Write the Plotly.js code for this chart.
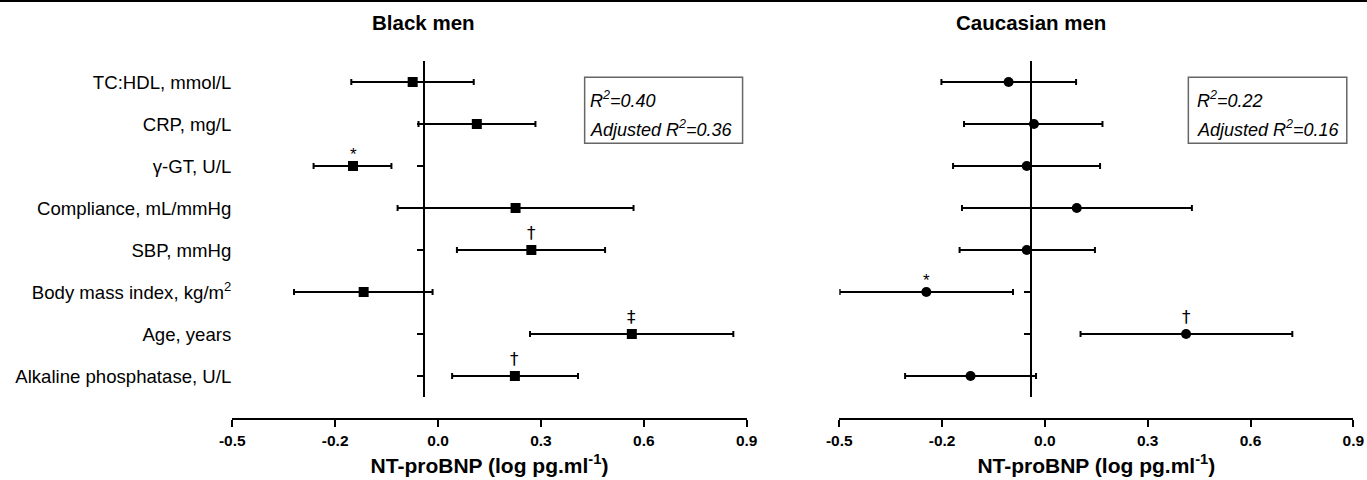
<!DOCTYPE html>
<html>
<head>
<meta charset="utf-8">
<script src="https://cdn.plot.ly/plotly-3.0.1.min.js"></script>
<style>html,body{margin:0;padding:0;background:#fff;}#chart{width:1367px;height:480px;}</style>
</head>
<body>
<div id="chart"></div>
<script>
// ---- data ----
const categories = ['TC:HDL, mmol/L', 'CRP, mg/L', '\u03B3-GT, U/L', 'Compliance, mL/mmHg',
  'SBP, mmHg', 'Body mass index, kg/m<sup>2</sup>', 'Age, years', 'Alkaline phosphatase, U/L'];
const blackEst   = [-0.074, 0.113, -0.248, 0.226, 0.272, -0.217, 0.565, 0.224];
const blackLower = [-0.253, -0.057, -0.363, -0.118, 0.055, -0.420, 0.268, 0.041];
const blackUpper = [0.104, 0.284, -0.136, 0.570, 0.487, -0.016, 0.861, 0.408];
const blackSig   = ['', '', '*', '', '\u2020', '', '\u2021', '\u2020'];
const whiteEst   = [-0.106, -0.032, -0.053, 0.093, -0.053, -0.346, 0.412, -0.217];
const whiteLower = [-0.302, -0.236, -0.268, -0.242, -0.249, -0.599, 0.104, -0.408];
const whiteUpper = [0.091, 0.168, 0.161, 0.429, 0.146, -0.093, 0.722, -0.026];
const whiteSig   = ['', '', '', '', '', '*', '\u2020', ''];
const tickVals   = [-0.6, -0.3, 0.0, 0.3, 0.6, 0.9];
const tickText   = ['-0.5', '-0.2', '0.0', '0.3', '0.6', '0.9'];
const refLine    = -0.042;
const panelTitles = ['Black men', 'Caucasian men'];
const r2Black = ['R<sup>2</sup>=0.40', 'Adjusted R<sup>2</sup>=0.36'];
const r2White = ['R<sup>2</sup>=0.22', 'Adjusted R<sup>2</sup>=0.16'];

// ---- layout helpers ----
const W = 1367, H = 480;
const FONT = 'Arial, "Liberation Sans", Helvetica, sans-serif';
const idx = categories.map((_, i) => i);
const xRange = [-0.6, 0.9];
const domL = [232.3 / W, 746.7 / W];
const domR = [839.3 / W, 1353.3 / W];
const mT = 61, mB = 61;
const plotH = H - mT - mB;
const yBottom = 22 / plotH;
const yRange = [7.5, -0.5];
function posOf(dom, v) { return dom[0] + (v - xRange[0]) / (xRange[1] - xRange[0]) * (dom[1] - dom[0]); }
function pyOf(px) { return (H - mB - px) / plotH; }

function makeTrace(est, lo, hi, xa, ya, sym) {
  return {
    type: 'scatter', mode: 'markers', x: est, y: idx, xaxis: xa, yaxis: ya,
    marker: { symbol: sym, size: 10, color: '#000' },
    error_x: { type: 'data', symmetric: false,
      array: hi.map((h, i) => h - est[i]), arrayminus: lo.map((l, i) => est[i] - l),
      color: '#000', thickness: 2, width: 3 },
    showlegend: false, hoverinfo: 'skip', cliponaxis: false
  };
}
const data = [
  { type: 'scatter', mode: 'markers', x: [null], y: [null], xaxis: 'x', yaxis: 'y', showlegend: false },
  makeTrace(blackEst, blackLower, blackUpper, 'x', 'y2', 'square'),
  makeTrace(whiteEst, whiteLower, whiteUpper, 'x2', 'y3', 'circle')
];

function xAxis(dom) {
  return {
    domain: dom, range: xRange, anchor: 'free', position: 0,
    showline: true, linecolor: '#000', linewidth: 2, showgrid: false, zeroline: false,
    ticks: 'outside', ticklen: 7, tickwidth: 2, tickcolor: '#000',
    tickvals: tickVals, ticktext: tickText,
    tickfont: { family: FONT, size: 15.5, color: '#000', weight: 'bold' },
    title: { text: 'NT-proBNP (log pg.ml<sup>-1</sup>)', standoff: 10,
      font: { family: FONT, size: 21, color: '#000', weight: 'bold' } }
  };
}
function freeY(pos, extra) {
  return Object.assign({
    range: yRange, anchor: 'free', position: pos,
    showline: true, linecolor: '#000', linewidth: 2, showgrid: false, zeroline: false,
    ticks: 'outside', ticklen: 6, tickwidth: 2, tickcolor: '#000',
    tickvals: idx, showticklabels: false
  }, extra);
}

const annotations = [];
panelTitles.forEach((t, k) => {
  annotations.push({ xref: k ? 'x2' : 'x', yref: 'paper', x: refLine, y: pyOf(23),
    xanchor: 'center', yanchor: 'middle', showarrow: false, text: t,
    font: { family: FONT, size: 20.5, color: '#000', weight: 'bold' } });
});
function addSig(sig, est, xa, ya) {
  sig.forEach((s, i) => {
    if (!s) return;
    const star = s === '*';
    annotations.push({ xref: xa, yref: ya, x: est[i], y: i, showarrow: false, text: s,
      xanchor: 'center', yanchor: 'middle', yshift: star ? 12 : 17,
      font: { family: star ? FONT : '"DejaVu Sans", ' + FONT, size: star ? 17 : 17, color: '#000' } });
  });
}
addSig(blackSig, blackEst, 'x', 'y');
addSig(whiteSig, whiteEst, 'x2', 'y3');
function addR2(lines, xa) {
  [100, 128].forEach((py, j) => {
    annotations.push({ xref: xa, yref: 'paper', x: 0.437, y: pyOf(py), showarrow: false,
      xanchor: 'left', yanchor: 'middle', text: lines[j],
      font: { family: FONT, size: 18, color: '#000', style: 'italic' } });
  });
}
addR2(r2Black, 'x');
addR2(r2White, 'x2');

const shapes = [
  { type: 'line', xref: 'paper', yref: 'paper', x0: 0, x1: 1, y0: pyOf(1), y1: pyOf(1),
    line: { color: '#000', width: 2 } },
  { type: 'rect', xref: 'x', yref: 'paper', x0: 0.4275, x1: 0.888, y0: pyOf(77.3), y1: pyOf(143.3),
    line: { color: '#666', width: 1.5 } },
  { type: 'rect', xref: 'x2', yref: 'paper', x0: 0.4186, x1: 0.881, y0: pyOf(77.3), y1: pyOf(143.3),
    line: { color: '#666', width: 1.5 } }
];

const layout = {
  width: W, height: H, paper_bgcolor: '#fff', plot_bgcolor: 'rgba(0,0,0,0)',
  margin: { l: 0, r: 0, t: mT, b: mB },
  showlegend: false,
  font: { family: FONT, color: '#000' },
  xaxis: xAxis(domL),
  xaxis2: xAxis(domR),
  yaxis: { domain: [yBottom, 1], range: yRange, anchor: 'x', showline: false, showgrid: false,
    zeroline: false, ticks: '', tickvals: idx, ticktext: categories,
    tickfont: { family: FONT, size: 18.6, color: '#000' } },
  yaxis2: freeY(posOf(domL, refLine), { overlaying: 'y' }),
  yaxis3: freeY(posOf(domR, refLine), { domain: [yBottom, 1] }),
  annotations: annotations,
  shapes: shapes
};
Plotly.newPlot('chart', data, layout, { displayModeBar: false, staticPlot: true });
</script>
</body>
</html>
